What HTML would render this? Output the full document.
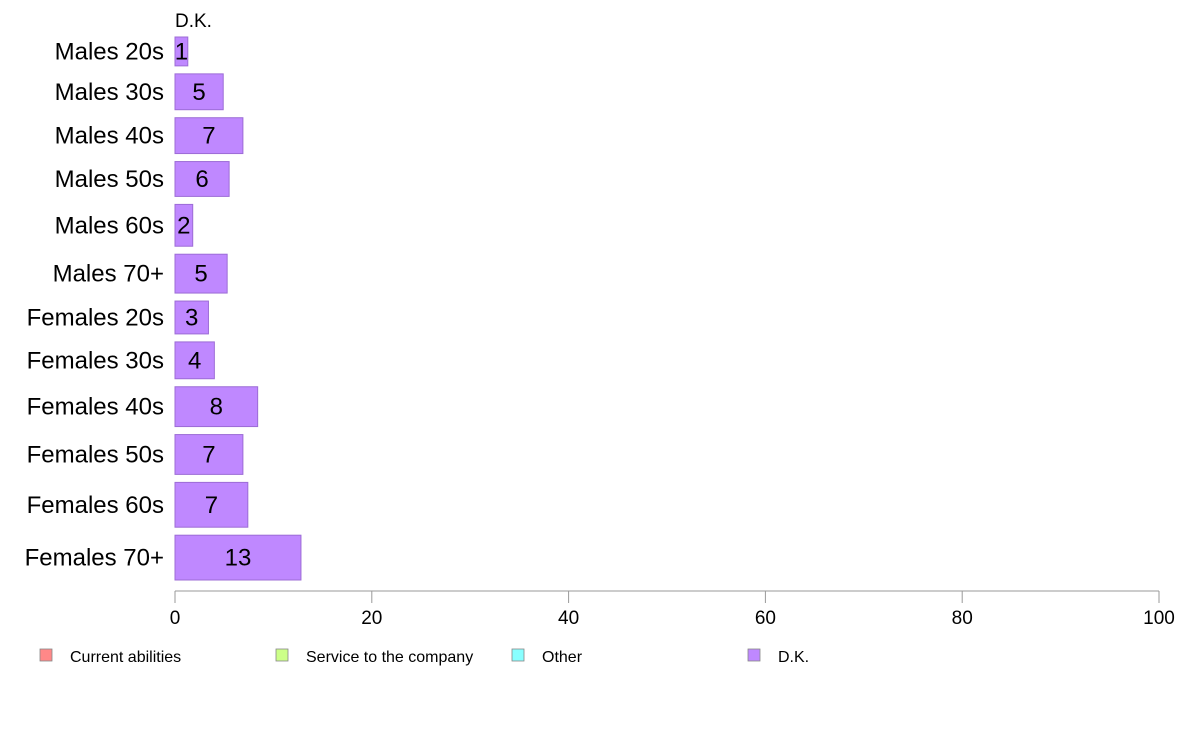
<!DOCTYPE html>
<html><head><meta charset="utf-8"><style>
body{margin:0;background:#fff;font-family:"Liberation Sans",sans-serif}
</style></head><body>
<svg id="chart" width="1188" height="736" xmlns="http://www.w3.org/2000/svg" font-family="Liberation Sans, sans-serif"></svg>
<script>
const categories=["Males 20s","Males 30s","Males 40s","Males 50s","Males 60s","Males 70+","Females 20s","Females 30s","Females 40s","Females 50s","Females 60s","Females 70+"];
const dkValues=[1.3,4.9,6.9,5.5,1.8,5.3,3.4,4.0,8.4,6.9,7.4,12.8];
const dkLabels=["1","5","7","6","2","5","3","4","8","7","7","13"];
const rowWeights=[29,36,36,35,42,39,33,37,40,40,45,45];
const ticks=[0,20,40,60,80,100];
const legendNames=["Current abilities","Service to the company","Other","D.K."];
const legendColors=["#ff8888","#ccff88","#88ffff","#bf88ff"];
const svg=document.getElementById('chart');
const NS="http://www.w3.org/2000/svg";
const x0=175,x1=1159,top0=37,gap=8,plotBottom=580;
const xs=v=>x0+(x1-x0)*v/100;
function mk(t,a){const e=document.createElementNS(NS,t);for(const k in a)e.setAttribute(k,a[k]);svg.appendChild(e);return e;}
const totalW=rowWeights.reduce((a,b)=>a+b,0);
const unit=(plotBottom-top0-gap*(categories.length-1))/totalW;
let y=top0;
const t=mk('text',{x:175,y:27,'font-size':19,fill:'#000'});t.textContent="D.K.";


categories.forEach((c,i)=>{
  const h=rowWeights[i]*unit;
  const r=mk('rect',{x:x0,y:y,width:xs(dkValues[i])-x0,height:h,fill:'#bf88ff',stroke:'#9c6cd6','stroke-width':1});
  
  
  const l=mk('text',{x:164,y:y+h/2+8,'font-size':24,'text-anchor':'end',fill:'#000'});l.textContent=c;
  
  
  const v=mk('text',{x:(x0+xs(dkValues[i]))/2,y:y+h/2+8,'font-size':24,'text-anchor':'middle',fill:'#000'});v.textContent=dkLabels[i];
  
  
  y+=h+gap;
});
const ax=mk('line',{x1:x0,y1:591,x2:x1,y2:591,stroke:'#999','stroke-width':1});


ticks.forEach(tv=>{
  const tl=mk('line',{x1:xs(tv),y1:591,x2:xs(tv),y2:603,stroke:'#999','stroke-width':1});
  
  
  const tt=mk('text',{x:xs(tv),y:624,'font-size':19,'text-anchor':'middle',fill:'#000'});tt.textContent=tv;
  
  
});
const lx=[40,276,512,748];
legendNames.forEach((n,i)=>{
  const s=mk('rect',{x:lx[i],y:649,width:12,height:12,fill:legendColors[i],stroke:'#888','stroke-width':0.8});
  
  
  const lt=mk('text',{x:lx[i]+30,y:662,'font-size':16,fill:'#000'});lt.textContent=n;
  
  
});
</script>
</body></html>
